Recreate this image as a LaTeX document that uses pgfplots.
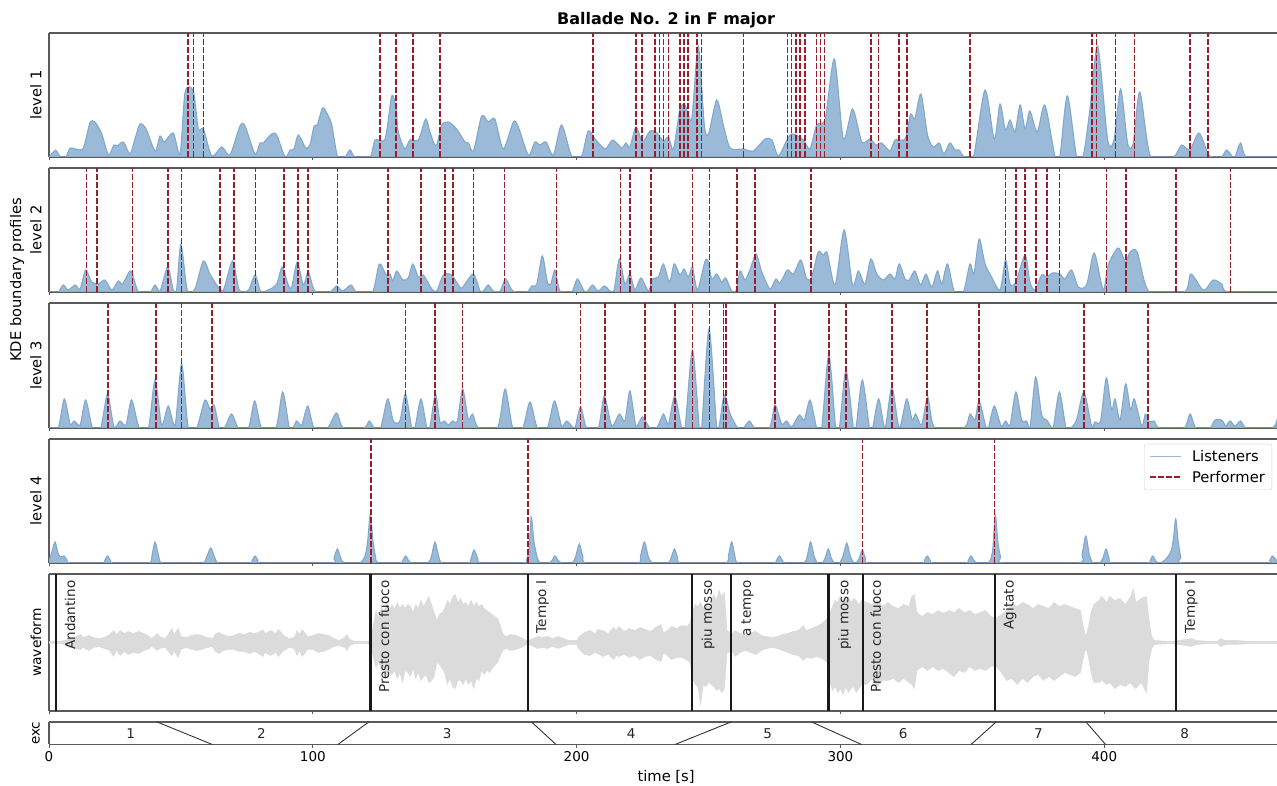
\documentclass[border=0pt]{standalone}
\usepackage{fontspec}
\setmainfont{DejaVu Sans}
\usepackage{pgfplots}
\pgfplotsset{compat=1.18}
\usepackage{pgfplotstable}
\newcommand\fs{\fontsize{13.5}{16}\selectfont}
\newcommand\fl{\fontsize{14.7}{17}\selectfont}
\definecolor{kdefill}{HTML}{9BBAD8}
\definecolor{kdeline}{HTML}{82A8CE}
\definecolor{perf}{HTML}{9E1B2B}
\definecolor{spine}{HTML}{5A5A5A}
\definecolor{wave}{HTML}{DBDBDB}

\pgfplotstableread{
t h
0 0
0.4 1
2.5 6.7
4.4 0
6.4 0
8.2 9
12.8 8
15.5 34
17.4 35
20 23
22.5 2
24.6 12
25.9 11
28.2 15
30.7 3
32.6 18
34.5 33
36.8 28
40.2 6
42.1 21
43.7 15
47.1 24
49.7 3
51.6 65
54.7 66
56.6 28
58.5 28
61.7 1
65.5 10
68.6 2
72.4 31
74.3 31
78.1 3
80 14
81.2 14
84.4 23
86.3 22
89.5 0
91.4 7
92.9 8
94.5 22
97.3 9
98.9 12
100.5 31
101.7 32
103.7 49
105.3 44
107.2 32
109.4 0
112.2 0
114.1 7
116 0
121.7 0
123.6 17
127.4 18
129.9 61
131.5 50
132.4 25
134.9 8
136.8 17
140 17
142.8 38
144.4 25
146.7 11
148.9 32
151.4 35
154.5 28
157.7 15
159 14
160.9 6
164 41
166.5 35
169 38
172.2 8
176 35
177.9 30
181.7 2
184.2 15
186.1 12
188.4 15
191.2 2
194.3 32
198.1 1
201.9 1
204.4 26
207 18
210.8 8
213.7 17
217.1 9
218.7 14
220.2 10
222.5 30
225 15
227.8 26
230.4 24
232.9 16
234.8 20
236.7 8
239.2 48
241.1 52
243.6 38
246.1 111
248.4 32
250 23
253.1 57
255.6 32
258.2 9
263.2 8
267 6
271.4 18
274 17
276.5 1
280.3 20
282.2 23
286 17
288.5 8
291 32
294.2 38
297.7 98
301.1 18
304.6 48
308.1 15
311.2 18
313.5 12
315.6 14
318.8 6
320.7 17
324.5 18
326.6 43
328.2 38
330.5 63
333 22
335.2 10
337.5 14
339.2 3
341.5 14
343.4 7
345 7
346.6 1
350.4 0
354.8 67
358.3 18
360.5 53
362.5 27
364.3 37
366.2 25
368.1 52
370 28
371.8 46
374.6 25
377.5 52
381.3 1
383.2 1
386 61
389.5 1
392.1 2
394.6 48
397.5 111
401.3 17
403.7 17
406.2 68
408.9 13
411 14
413.5 65
417.6 0
426.2 0
429.3 12
432.5 7
435.9 24
439.4 3
441.3 0
444.5 0
446.4 7
448.7 0
449.6 0
451.7 14
454 0
465.5 0
}\levelone

\pgfplotstableread{
t h
0 0
3.5 0
5.4 7
7.3 2
9.9 7
11.8 3
13.9 22
16.2 10
18.7 8
21.2 12
23.8 2
26.3 11
27.9 8
31 21
33.9 0
38.3 0
40.2 7
42.1 1
45 25
47.1 2
48.4 3
50 48
52.4 2
55.3 3
58.5 31
61 18
63.6 7
66.1 2
69.6 31
72.1 2
75.6 2
78.1 17
80.2 1
83.1 2
86.3 8
88.4 25
90.7 7
92 5
94.1 30
96.4 7
98.3 20
100.8 1
106.5 0
109 6
111.3 1
114.5 7
116.6 0
122.6 0
125.2 28
127.8 17
129.3 18
130.3 11
131.8 21
134.1 12
136.2 14
137.9 28
140 15
141.9 17
145.1 3
147 1
149.5 17
152.6 17
156 4
157.7 8
160.9 18
163.4 1
164.6 1
166.5 7
168.4 1
171 1
173.1 13
175.8 1
181.1 0
183 6
184.9 8
187 36
188.9 10
190.2 8
191.8 22
193.7 1
198.1 0
200.3 13
202.8 1
204.2 1
206 7
208.2 1
210.5 6
212.7 1
214.2 2
216.2 33
218.3 8
220.2 18
222.1 2
224.4 14
227.2 1
228.8 13
231 15
232.9 28
235.2 10
237 28
239.2 17
240.7 23
242.4 15
243.9 25
245.8 2
248.7 31
250 30
251.2 13
253.1 18
255 10
256.5 14
258.8 1
260.4 1
262 21
263.8 12
265.7 22
268 38
270.2 20
273.3 3
275.5 13
277.1 9
279.9 22
282.2 18
285 32
287.2 13
289.1 15
291.6 40
293.5 37
295 39
298 7
301.4 62
304.6 7
306.8 21
309.3 8
311.5 33
313.8 18
316.3 12
318.8 18
320.7 13
322.3 28
324.5 13
326.1 12
328.2 21
330.4 7
332.4 18
334.6 5
336.8 21
338.4 8
340.6 28
343.2 0
346.6 0
349.1 28
350.6 18
352.6 53
354.8 28
357.3 15
360.5 2
362.6 32
364.3 8
366.5 10
370 37
371.8 10
373.7 2
376.3 17
378.2 15
380.4 19
383.2 18
385.1 13
387.6 22
390.2 5
393.3 7
396.2 39
399.6 2
401.5 27
405.3 44
408.1 30
409.8 40
412.5 40
417.1 0
430.4 0
432.8 18
437 3
438.6 3
441.3 12
444.5 8
447 0
465.5 0
}\leveltwo

\pgfplotstableread{
t h
0 0
3.5 0
5.8 29
8 4
9.6 7
11.8 3
13.9 28
16.5 0
19.6 0
22.2 34
24.6 1
26.9 7
29.2 3
31.3 28
34.2 0
37.7 0
40.2 48
42.7 3
45.2 22
47.8 3
50.3 64
52.8 0
56 0
59.1 28
61 19
62.6 23
64.6 0
66.7 1
69.2 14
71.8 0
75.6 0
78 27
80.6 0
86 0
88.6 36
91.1 0
92.6 1
93.9 7
95.8 3
98.1 22
100.5 0
105.5 0
109 15
111.6 0
119.4 0
121.4 7
123.3 0
125.7 0
128.4 29
130.5 7
133 7
135.1 34
137.5 0
138.7 0
141 29
143.2 0
144.4 1
146.5 34
148.2 6
149.9 7
151.4 3
153 7
154.8 7
156.8 39
158.9 9
160.6 14
162.8 0
170 0
172.9 39
175.8 0
179.6 0
182.3 26
185.1 0
188.9 0
191.6 27
194.3 2
196.2 7
198.5 1
199.4 0
201.5 21
203.8 0
208.2 0
210.5 32
213.3 2
216.2 14
218.3 7
220.2 37
222.5 2
224.9 11
227.8 0
230.6 1
232.9 14
234.8 4
237.2 32
239.8 0
241.1 0
243.9 78
246.5 0
247.4 0
250.2 99
253.1 0
254.1 3
256 33
258.2 14
261.1 0
263.2 0
265.5 7
267.6 0
273.1 0
275.2 23
277.7 4
279.6 7
281.5 1
284.4 13
286.3 8
288.5 28
291 0
292.9 0
295.6 73
298.2 0
299.6 0
302.1 58
304.9 0
305.9 0
308.3 48
311 0
312.2 0
314.5 29
316.9 0
319.5 41
322.3 0
325.1 29
327.2 8
328.5 14
330.8 3
333.1 31
335.8 0
346.8 0
349.1 14
351 8
352.6 27
355.2 0
356.1 0
358.3 22
360.9 2
362.6 7
364.3 3
366.5 36
368.7 8
370.6 7
371.9 1
374 51
376.3 13
378.2 8
380.1 0
380.7 0
383 36
385.5 0
387.3 0
389.5 8
392.3 36
395.2 2
396.5 6
398.6 7
400.8 50
402.8 18
404.1 29
406 8
408.1 44
410 18
411.4 29
414.2 2
415.6 14
417.1 6
418.9 7
420.9 0
430.2 0
432.5 14
434.8 0
440 0
442 8
444.5 8
446.1 2
447.7 7
449.6 2
451.7 7
454 0
463.5 0
465.4 7
}\levelthree

\pgfplotstableread{
t h
0 2
1.2 12
2.3 21
3.3 11
4.2 6
5.7 7
6.8 3
8 0
20 0
21.1 2.5
22.2 7
23.3 2.5
24.6 0
37.7 0
39 7
40.2 21
41.6 7
43.3 0
57.7 0
59.6 5
61.3 15
62.9 5
64.6 0
75.8 0
77 2.5
78.1 7
79.2 2.5
80.6 0
106.8 0
108 5
109.3 14
110.6 5
112 0
117.7 0
119.8 7
120.8 22
121.8 49
122.8 22
123.8 6
124.8 0
133 0
134.1 2.5
135.2 7
136.3 2.5
137.7 0
143.6 0
145 7
146.3 21
147.7 7
149.2 0
158.8 0
160 4.5
161.1 13
162.5 4.5
164 0
179.5 0
181 3
182 15
182.8 46
183.8 22
185 6
186.2 0
189.5 0
190.7 2.5
191.8 7
193 2.5
194.2 0
198.2 0
199.6 6
201 19
202.4 6
204 0
222.8 0
224.2 7
225.7 21
227.1 7
228.7 0
234.6 0
235.8 5
237.1 14
238.3 5
239.7 0
256.1 0
257.5 7
258.8 21
260 7
261.5 0
274.4 0
275.7 2.5
276.9 7
278 2.5
279.2 0
286.1 0
287.4 7
288.7 21
290 7
291.3 0
293.1 0
294.2 5
295.4 14
296.5 5
297.8 0
299.6 0
301 7
302.4 20
303.7 7
305.1 0
305.9 0
307.1 4.5
308.3 13
309.5 4.5
310.8 0
330.6 0
331.8 2.5
332.9 7
334 2.5
335.2 0
347.3 0
348.4 2.5
349.5 7
350.6 2.5
351.8 0
355.8 0
357 4
357.8 15
358.7 48
359.7 20
360.7 6
361.9 0
390 0
391.6 9
393 27
394.3 9
395.7 0
398.2 0
399.5 5
400.7 14
401.8 5
403 0
416.3 0
417.4 2.5
418.4 7
419.4 2.5
420.4 0
421.6 0.5
423 3
424.3 7
425.5 13
426.3 26
427.1 44
428 22
429 6
430.2 0
461.6 0
462.7 2.5
463.8 7
465.5 2
}\levelfour

\pgfplotstableread{
t up dn
0 1 1
4 1 1
6 2 2
8 4 5
9 3 3
10 6 6
12 8 7
13 5 5
15 7 8
17 5 5
19 4 4
21 5 6
23 8 8
24.5 12 14
25.5 8 8
27 12 13
28.5 9 9
30 11 12
32 9 10
34 11 11
36 9 8
38 6 6
39 4 4
41 9 8
42 6 6
44 4 5
45 7 8
46.5 14 13
47.5 8 9
49 14 15
50 6 7
52 5 5
54 7 7
56 8 8
58 7 7
60 5 5
62 4 4
63 8 9
64.5 10 11
66 8 8
68 6 7
70 7 7
72 9 9
74 8 9
76 10 11
78 9 9
80 11 12
81 13 14
82 9 10
84 12 13
86 9 10
87 13 14
89 7 8
91 4 5
93 5 6
94 12 13
95 8 8
96 13 14
98 6 7
100 7 7
102 9 10
104 8 9
106 7 7
108 4 4
110 2 3
112 5 5
113 8 8
114 3 3
116 1 1
118 1 1
121 1 1
122 4 4
123 18 15
124 32 25
125 24 18
126 36 28
127 30 24
128 40 34
129 32 30
130 38 32
131 33 28
132 40 36
133 34 30
134 38 40
135 34 28
136 38 30
137 36 34
138 30 26
139 38 36
140 34 30
141 42 38
142 36 34
143 41 33
144 46 40
145 38 38
146 30 34
147 22 20
148 28 22
149 30 26
150 34 30
151 42 42
152 38 36
153 46 44
154 48 46
155 40 38
156 44 38
157 38 42
158 40 36
159 36 42
160 42 38
161 36 46
162 40 36
163 36 38
164 38 28
165 34 32
166 32 28
167 30 30
168 28 26
170 24 20
171 18 14
172 9 8
173 6 6
175 8 8
177 7 7
179 5 5
181 2 2
183 3 3
185 6 6
187 5 5
189 6 6
191 4 4
193 6 6
195 4 4
197 2 2
200 2 2
201 6 7
203 10 12
205 12 13
207 9 10
208 13 11
210 12 14
212 9 12
214 15 17
215 12 13
216 16 14
218 11 12
220 14 15
222 12 13
224 15 17
226 13 14
228 11 13
230 15 17
232 18 19
233 9 10
236 16 17
238 14 15
240 17 15
242 16 18
243 20 20
244 32 36
245 38 42
246 36 44
247 40 62
248 34 42
249 38 44
250 36 40
251 40 42
252 48 44
253 42 48
254 52 46
255 46 50
256 50 46
257 12 10
259 9 9
260 12 14
262 9 10
264 7 8
266 10 10
268 11 12
270 7 8
272 6 6
274 5 5
276 6 6
278 8 8
280 9 10
282 11 12
284 12 13
286 17 18
287 12 15
289 14 16
291 16 14
293 19 16
295 24 20
296 30 40
297 36 48
298 42 44
299 40 50
300 47 46
301 42 52
302 44 44
303 46 50
304 40 46
305 44 44
306 42 50
307 38 46
308 42 42
310 40 42
312 38 36
314 42 44
316 36 38
318 40 38
320 36 36
322 34 40
324 38 36
326 36 40
327 46 42
328 48 46
329 30 28
331 26 24
333 30 28
335 28 24
337 32 28
339 29 26
341 32 30
343 30 34
345 34 28
347 30 30
349 32 24
351 28 28
353 30 26
355 32 28
357 26 24
359 24 24
361 28 30
363 32 38
365 38 36
367 36 42
369 40 36
371 38 40
373 34 34
375 38 32
377 36 38
379 34 34
381 40 38
383 36 34
385 38 30
387 36 32
389 34 34
391 32 30
392 16 16
393 6 6
394 16 14
395 30 30
396 38 40
398 42 40
399 46 38
401 40 42
402 46 40
404 42 46
406 44 42
408 38 44
410 46 40
411 54 44
412 40 46
414 44 40
416 46 50
417 22 18
418 6 6
419 2 2
425 1 1
428 2 2
431 3 3
433 4 4
435 2 2
440 1 1
443 1 1
444 4 4
446 2 2
450 2 2
455 1 1
465.5 1 1
}\wavetable

\pgfplotsset{
  panel/.style={
    scale only axis, width=1228pt,
    xmin=0, xmax=465.5,
    axis x line=box, axis y line=left,
    axis line style={-, draw=spine, line width=1.2pt},
    xtick={0,100,200,300,400},
    xtick pos=bottom, tick align=outside,
    major tick length=3.5pt,
    every tick/.style={draw=spine, line width=0.9pt},
    ytick=\empty,
    xticklabels={},
    label style={font=\fl},
    ylabel style={at={(axis description cs:-0.0106,0.5)},anchor=center},
    tick label style={font=\fs},
    /pgf/number format/assume math mode=true,
  },
  kde/.style={smooth, tension=0.45, fill=kdefill, draw=kdeline, line width=1.1pt, forget plot},
  perfl/.style={ycomb, no marks, draw=perf, line width=1.6pt, dash pattern=on 5.5pt off 2.5pt, forget plot},
}

\begin{document}
\begin{tikzpicture}[x=1pt,y=1pt]
\useasboundingbox (0,0) rectangle (1277,786);

\begin{axis}[panel, at={(49pt,629pt)}, anchor=south west, height=124pt, ymin=0, ymax=124,
  ylabel={level 1},
  title={\fontsize{16}{19}\selectfont\bfseries Ballade No. 2 in F major},
  title style={at={(axis description cs:0.5025,1)},anchor=center,yshift=7pt}]
\addplot[kde] table[x=t,y=h] {\levelone} \closedcycle;
\addplot[perfl] coordinates {(52.7,124)(54.8,124)(58.5,124)(125.5,124)(131.5,124)(138.0,124)(148.3,124)(206.1,124)(222.4,124)(224.7,124)(229.8,124)(231.4,124)(233.0,124)(234.8,124)(239.2,124)(240.7,124)(242.2,124)(245.6,124)(247.3,124)(263.2,124)(279.9,124)(281.5,124)(283.2,124)(284.7,124)(286.5,124)(290.9,124)(292.5,124)(294.0,124)(311.5,124)(314.4,124)(322.3,124)(325.2,124)(349.1,124)(395.3,124)(397.0,124)(404.3,124)(411.5,124)(432.5,124)(439.4,124)};
\end{axis}

\begin{axis}[panel, at={(49pt,494pt)}, anchor=south west, height=124pt, ymin=0, ymax=124,
  ylabel={level 2}]
\addplot[kde] table[x=t,y=h] {\leveltwo} \closedcycle;
\addplot[perfl] coordinates {(14.2,124)(18.3,124)(31.7,124)(45.0,124)(50.3,124)(64.9,124)(70.1,124)(78.2,124)(89.0,124)(94.3,124)(98.2,124)(109.4,124)(128.4,124)(141.1,124)(150.0,124)(153.1,124)(160.9,124)(172.7,124)(192.4,124)(216.6,124)(220.2,124)(228.2,124)(243.9,124)(250.3,124)(260.7,124)(267.6,124)(288.9,124)(362.6,124)(366.5,124)(370.0,124)(374.1,124)(378.2,124)(383.1,124)(400.9,124)(408.2,124)(427.3,124)(447.9,124)};
\end{axis}

\begin{axis}[panel, at={(49pt,358pt)}, anchor=south west, height=125pt, ymin=0, ymax=125,
  ylabel={level 3}]
\addplot[kde] table[x=t,y=h] {\levelthree} \closedcycle;
\addplot[perfl] coordinates {(22.4,125)(40.6,125)(50.3,125)(61.7,125)(135.1,125)(146.4,125)(156.7,125)(201.5,125)(210.8,125)(225.9,125)(237.2,125)(243.9,125)(250.3,125)(255.6,125)(256.6,125)(275.2,125)(295.6,125)(302.1,125)(319.5,125)(332.8,125)(352.6,125)(392.3,125)(416.6,125)};
\end{axis}

\begin{axis}[panel, at={(49pt,223pt)}, anchor=south west, height=124pt, ymin=0, ymax=124,
  ylabel={level 4},
  legend cell align=left,
  legend style={at={(1,1)},anchor=north east,xshift=-5pt,yshift=-5pt,font=\fontsize{14.7}{17}\selectfont,
    draw=black!18, fill=white, fill opacity=0.85, text opacity=1, rounded corners=2pt,
    row sep=4pt, inner xsep=5pt, inner ysep=4pt,
    /tikz/every odd column/.append style={column sep=8pt}},
  legend image code/.code={\draw[#1] (0pt,0pt) -- (31pt,0pt);}]
\addlegendimage{draw=kdefill, line width=1.8pt}
\addlegendentry{Listeners}
\addlegendimage{draw=perf, line width=1.4pt, dash pattern=on 5.5pt off 2.5pt}
\addlegendentry{Performer}
\addplot[kde] table[x=t,y=h] {\levelfour} \closedcycle;
\addplot[perfl] coordinates {(122.1,124)(181.6,124)(308.4,124)(358.4,124)};
\end{axis}

\begin{axis}[panel, at={(49pt,75pt)}, anchor=south west, height=137pt, ymin=-68.5, ymax=68.5,
  ylabel={\fontsize{13.8}{16}\selectfont waveform}]
\addplot[fill=wave, draw=wave, line width=0.5pt, forget plot] table[x=t,y=up] {\wavetable} \closedcycle;
\addplot[fill=wave, draw=wave, line width=0.5pt, forget plot] table[x=t,y expr=-\thisrow{dn}] {\wavetable} \closedcycle;
\addplot[ycomb, no marks, draw=black!90, line width=2.4pt, forget plot] coordinates {(2.6,68.5)(121.9,68.5)(181.5,68.5)(243.8,68.5)(258.6,68.5)(295.5,68.5)(308.5,68.5)(358.6,68.5)(427.3,68.5)};
\addplot[ycomb, no marks, draw=black!90, line width=2.4pt, forget plot] coordinates {(2.6,-68.5)(121.9,-68.5)(181.5,-68.5)(243.8,-68.5)(258.6,-68.5)(295.5,-68.5)(308.5,-68.5)(358.6,-68.5)(427.3,-68.5)};
\foreach \tx/\lab in {5.9/Andantino,125.0/Presto con fuoco,184.6/Tempo I,247.3/piu mosso,262.4/a tempo,299.0/piu mosso,311.4/Presto con fuoco,361.7/Agitato,430.5/Tempo I}{
  \edef\tmp{\noexpand\node[rotate=90,anchor=north east,inner sep=0pt,font=\noexpand\fs,text=black!85] at (axis cs:\tx,62) {\lab};}
  \tmp
}
\end{axis}

\begin{axis}[panel, at={(49pt,41.5pt)}, anchor=south west, height=22.5pt, ymin=0, ymax=1,
  ylabel={\fs exc},
  xticklabels={0,100,200,300,400},
  xlabel={time [s]},
  xlabel style={at={(axis description cs:0.5025,0)},anchor=center,yshift=-32.5pt}]
\addplot[no marks, draw=black!80, line width=0.9pt, unbounded coords=jump, forget plot] coordinates {(41,1)(61.9,0)(nan,nan)(121.2,1)(109.5,0)(nan,nan)(182.9,1)(192.2,0)(nan,nan)(258.5,1)(237.3,0)(nan,nan)(289.1,1)(308,0)(nan,nan)(359,1)(349.5,0)(nan,nan)(393.1,1)(400.5,0)};
\foreach \tx/\lab in {31/1,80.5/2,150.9/3,220.7/4,272.4/5,323.8/6,375/7,430.5/8}{
  \edef\tmp{\noexpand\node[font=\noexpand\fs,text=black!85] at (axis cs:\tx,0.5) {\lab};}
  \tmp
}
\end{axis}

\node[rotate=90,font=\fl] at (17,506) {KDE boundary profiles};
\end{tikzpicture}
\end{document}
